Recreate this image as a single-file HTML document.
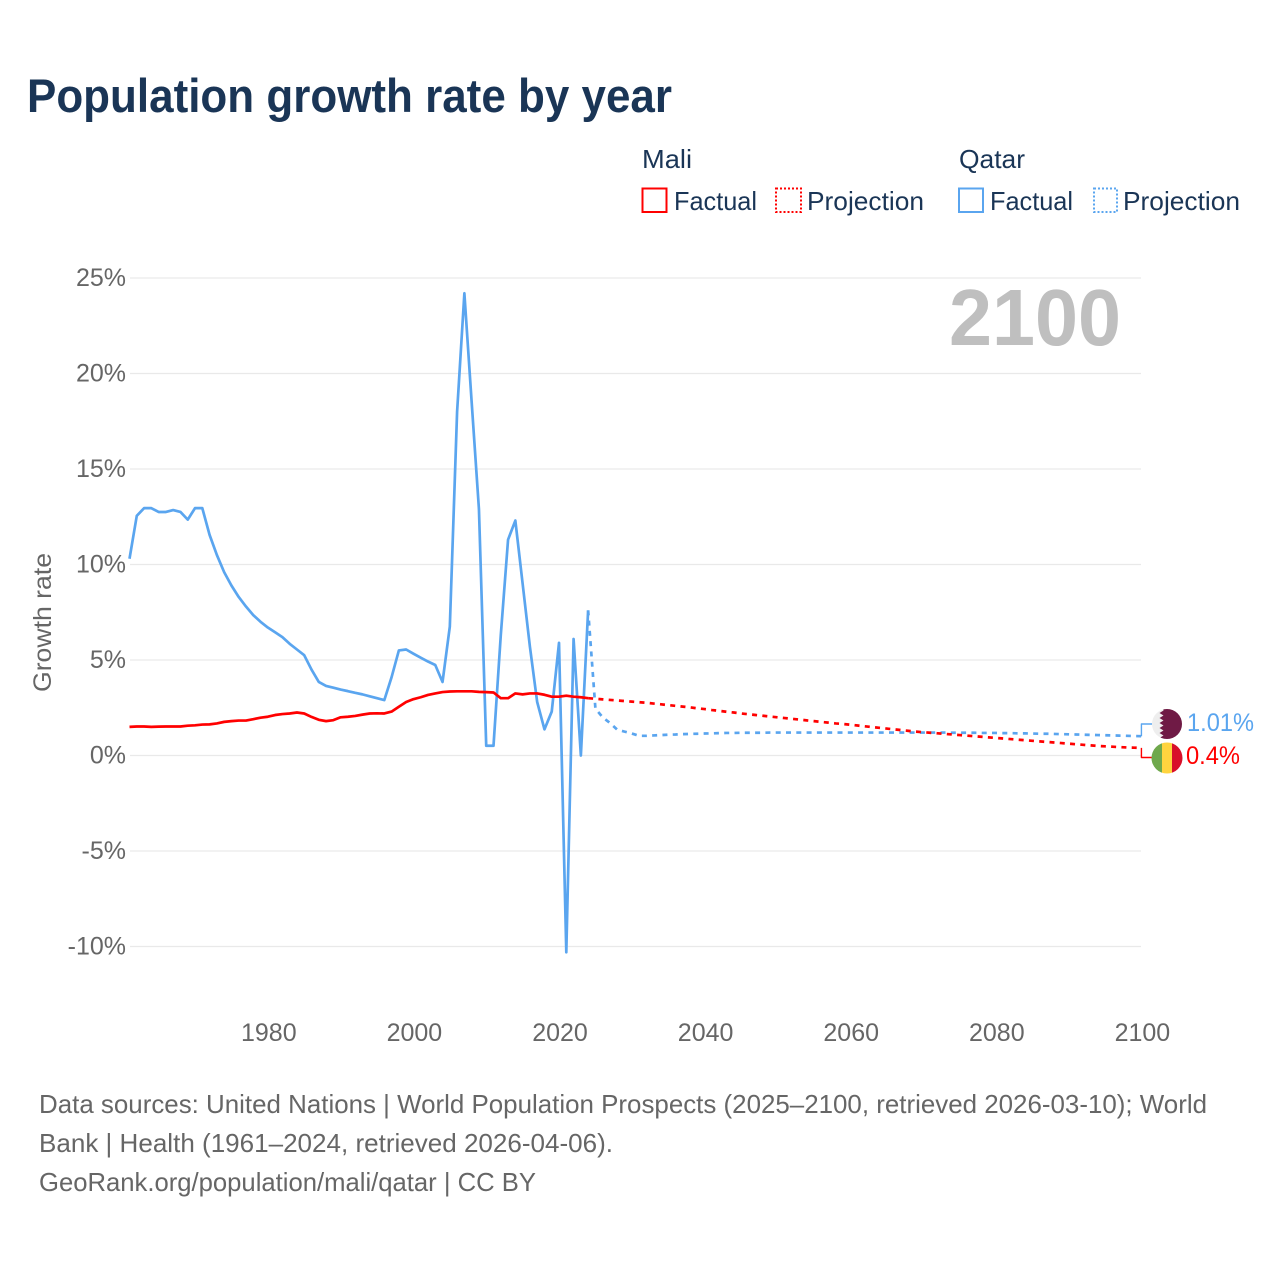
<!DOCTYPE html>
<html lang="en">
<head>
<meta charset="utf-8">
<title>Population growth rate by year</title>
<style>
html,body{margin:0;padding:0;background:#fff;}
svg{display:block;font-family:"Liberation Sans",sans-serif;}
</style>
</head>
<body>
<svg id="chart" width="1280" height="1280" viewBox="0 0 1280 1280" xmlns="http://www.w3.org/2000/svg">
  <defs>
    <clipPath id="clip-qa"><circle cx="1167" cy="724" r="15"/></clipPath>
    <clipPath id="clip-ml"><circle cx="1167" cy="758" r="15.5"/></clipPath>
  </defs>
  <rect width="1280" height="1280" fill="#fff"/>

  <text x="27" y="112" font-size="47" font-weight="700" fill="#1a3556" textLength="645" lengthAdjust="spacingAndGlyphs">Population growth rate by year</text>

  <g font-size="26" fill="#1a3556">
    <text x="642" y="168" textLength="50" lengthAdjust="spacingAndGlyphs">Mali</text>
    <text x="959" y="168" textLength="66" lengthAdjust="spacingAndGlyphs">Qatar</text>
    <rect x="642.5" y="188.5" width="24" height="23.5" fill="none" stroke="#ff0000" stroke-width="2"/>
    <text x="674" y="210" textLength="83" lengthAdjust="spacingAndGlyphs">Factual</text>
    <rect x="776" y="188.5" width="25" height="23.5" fill="none" stroke="#ff0000" stroke-width="2" stroke-dasharray="2 2"/>
    <text x="807" y="210" textLength="117" lengthAdjust="spacingAndGlyphs">Projection</text>
    <rect x="959" y="188.5" width="24" height="23.5" fill="none" stroke="#5aa5ef" stroke-width="2"/>
    <text x="990" y="210" textLength="83" lengthAdjust="spacingAndGlyphs">Factual</text>
    <rect x="1094" y="188.5" width="23" height="23.5" fill="none" stroke="#5aa5ef" stroke-width="2" stroke-dasharray="2 2"/>
    <text x="1123" y="210" textLength="117" lengthAdjust="spacingAndGlyphs">Projection</text>
  </g>

  <g id="grid"></g>
  <g id="yticks" font-size="25" fill="#666" text-anchor="end"></g>
  <g id="xticks" font-size="25" fill="#666" text-anchor="middle"></g>

  <text transform="translate(51,692) rotate(-90)" font-size="25" fill="#666" textLength="139" lengthAdjust="spacingAndGlyphs">Growth rate</text>

  <text x="949" y="345" font-size="80" font-weight="700" fill="#bfbfbf" textLength="172" lengthAdjust="spacingAndGlyphs">2100</text>

  <g id="series"></g>

  <g clip-path="url(#clip-qa)">
    <rect x="1150" y="708" width="34" height="32" fill="#eeeeee"/>
    <polygon points="1163,708 1184,708 1184,740 1163,740 1159.5,738 1163.5,735.5 1159.5,733 1163.5,730.5 1159.5,728 1163.5,725.5 1159.5,723 1163.5,720.5 1159.5,718 1163.5,715.5 1159.5,713 1163.5,710.5" fill="#6f1a45"/>
  </g>
  <g clip-path="url(#clip-ml)">
    <rect x="1151" y="742" width="11" height="32" fill="#6fa84c"/>
    <rect x="1162" y="742" width="10" height="32" fill="#ffd43f"/>
    <rect x="1172" y="742" width="11" height="32" fill="#d80f2a"/>
  </g>
  <text id="label-qa" x="1187" y="731" font-size="25" fill="#5aa5ef" textLength="67" lengthAdjust="spacingAndGlyphs"></text>
  <text id="label-ml" x="1186" y="764" font-size="25" fill="#ff0000" textLength="54" lengthAdjust="spacingAndGlyphs"></text>

  <g font-size="26" fill="#666">
    <text x="39" y="1113" textLength="1168" lengthAdjust="spacingAndGlyphs">Data sources: United Nations | World Population Prospects (2025–2100, retrieved 2026-03-10); World</text>
    <text x="39" y="1152" textLength="574" lengthAdjust="spacingAndGlyphs">Bank | Health (1961–2024, retrieved 2026-04-06).</text>
    <text x="39" y="1191" textLength="497" lengthAdjust="spacingAndGlyphs">GeoRank.org/population/mali/qatar | CC BY</text>
  </g>
</svg>
<script>
const yTickValues = [25, 20, 15, 10, 5, 0, -5, -10];
const xTickValues = [1980, 2000, 2020, 2040, 2060, 2080, 2100];
const factualStartYear = 1961;
const projectionStartYear = 2024;
const qatarFactual = [10.3,12.55,12.95,12.95,12.75,12.75,12.85,12.75,12.35,12.95,12.95,11.55,10.5,9.6,8.9,8.3,7.8,7.35,7.0,6.7,6.45,6.2,5.85,5.55,5.25,4.5,3.85,3.64,3.55,3.45,3.37,3.28,3.2,3.1,3.0,2.9,4.1,5.5,5.55,5.33,5.12,4.92,4.74,3.85,6.75,18,24.2,18.5,12.9,0.51,0.51,6.3,11.3,12.3,9,5.7,2.8,1.37,2.3,5.9,-10.3,6.1,0,7.6];
const qatarProjection = [7.6,2.45,2.0,1.7,1.35,1.25,1.15,1.03,1.03,1.05,1.07,1.09,1.1,1.12,1.13,1.14,1.15,1.16,1.17,1.18,1.18,1.19,1.19,1.19,1.19,1.2,1.2,1.2,1.2,1.2,1.2,1.2,1.2,1.2,1.2,1.2,1.2,1.2,1.2,1.2,1.2,1.2,1.2,1.2,1.2,1.2,1.2,1.2,1.2,1.2,1.19,1.19,1.19,1.19,1.18,1.18,1.18,1.17,1.17,1.16,1.16,1.15,1.14,1.14,1.13,1.12,1.11,1.1,1.09,1.08,1.07,1.06,1.05,1.04,1.03,1.02,1.01];
const maliFactual = [1.5,1.52,1.52,1.5,1.51,1.52,1.52,1.52,1.56,1.58,1.62,1.63,1.68,1.76,1.8,1.83,1.83,1.9,1.98,2.03,2.12,2.17,2.2,2.25,2.2,2.02,1.87,1.8,1.85,2.0,2.03,2.07,2.14,2.2,2.21,2.2,2.3,2.55,2.8,2.95,3.05,3.17,3.25,3.32,3.35,3.36,3.36,3.36,3.33,3.32,3.3,3.0,3.0,3.25,3.2,3.25,3.25,3.18,3.08,3.08,3.13,3.08,3.05,3.0];
const maliProjection = [3.0,2.97,2.94,2.91,2.88,2.85,2.82,2.79,2.76,2.72,2.68,2.64,2.6,2.56,2.52,2.47,2.43,2.38,2.34,2.29,2.25,2.2,2.16,2.12,2.08,2.04,2.0,1.96,1.92,1.88,1.84,1.8,1.76,1.72,1.68,1.65,1.61,1.57,1.53,1.49,1.45,1.41,1.37,1.33,1.29,1.25,1.22,1.19,1.16,1.13,1.1,1.07,1.04,1.01,0.98,0.95,0.92,0.89,0.86,0.83,0.8,0.77,0.74,0.71,0.68,0.65,0.62,0.59,0.56,0.53,0.5,0.48,0.46,0.44,0.42,0.41,0.4];
const endLabelSuffix = '%';

const NS = 'http://www.w3.org/2000/svg';
const X0 = 129.5, PX_PER_YEAR = 7.28, Y0 = 755.5, PX_PER_PCT = 19.1;
const TICK_LABEL_SHIFT = 1;
function xScale(year){ return X0 + (year - 1961) * PX_PER_YEAR; }
function yScale(v){ return Y0 - v * PX_PER_PCT; }
function pathFrom(values, startYear){
  return values.map(function(v, i){
    return (i ? 'L' : 'M') + xScale(startYear + i).toFixed(2) + ' ' + yScale(v).toFixed(2);
  }).join(' ');
}
const gridG = document.getElementById('grid');
const yG = document.getElementById('yticks');
const xG = document.getElementById('xticks');
const seriesG = document.getElementById('series');

yTickValues.forEach(function(v){
  const line = document.createElementNS(NS, 'line');
  
  
  line.setAttribute('x1', 130);
  line.setAttribute('x2', 1141);
  line.setAttribute('y1', yScale(v));
  line.setAttribute('y2', yScale(v));
  line.setAttribute('stroke', '#e9e9e9');
  line.setAttribute('stroke-width', '1.3');
  gridG.appendChild(line);
  const t = document.createElementNS(NS, 'text');
  
  
  t.setAttribute('x', 126);
  t.setAttribute('y', yScale(v) + 8);
  t.textContent = v + '%';
  yG.appendChild(t);
});
xTickValues.forEach(function(y){
  const t = document.createElementNS(NS, 'text');
  
  
  t.setAttribute('x', xScale(y) + TICK_LABEL_SHIFT);
  t.setAttribute('y', 1041);
  t.textContent = y;
  xG.appendChild(t);
});

function addLine(name, d, color, dash){
  const p = document.createElementNS(NS, 'path');
  
  
  p.setAttribute('d', d);
  p.setAttribute('fill', 'none');
  p.setAttribute('stroke', color);
  p.setAttribute('stroke-width', '2.7');
  p.setAttribute('stroke-linejoin', 'round');
  if (dash) p.setAttribute('stroke-dasharray', dash);
  seriesG.appendChild(p);
}
const BLUE = '#5aa5ef', RED = '#ff0000';
addLine('qatar-projection-line', pathFrom(qatarProjection, projectionStartYear), BLUE, '5 5.3');
addLine('qatar-factual-line', pathFrom(qatarFactual, factualStartYear), BLUE);
addLine('mali-projection-line', pathFrom(maliProjection, projectionStartYear), RED, '5 5.3');
addLine('mali-factual-line', pathFrom(maliFactual, factualStartYear), RED);

const qaLast = qatarProjection[qatarProjection.length - 1];
const mlLast = maliProjection[maliProjection.length - 1];
const xEnd = xScale(2100);
addLine('qatar-end-connector', 'M' + xEnd + ' ' + yScale(qaLast) + ' L' + xEnd + ' 724 L1152 724', BLUE);
addLine('mali-end-connector', 'M' + xEnd + ' ' + yScale(mlLast) + ' L' + xEnd + ' 757.5 L1152 757.5', RED);
seriesG.lastChild.setAttribute('stroke-width', '1.4');
seriesG.lastChild.previousSibling.setAttribute('stroke-width', '1.4');
document.getElementById('label-qa').textContent = qaLast + endLabelSuffix;
document.getElementById('label-ml').textContent = mlLast + endLabelSuffix;
</script>
</body>
</html>
